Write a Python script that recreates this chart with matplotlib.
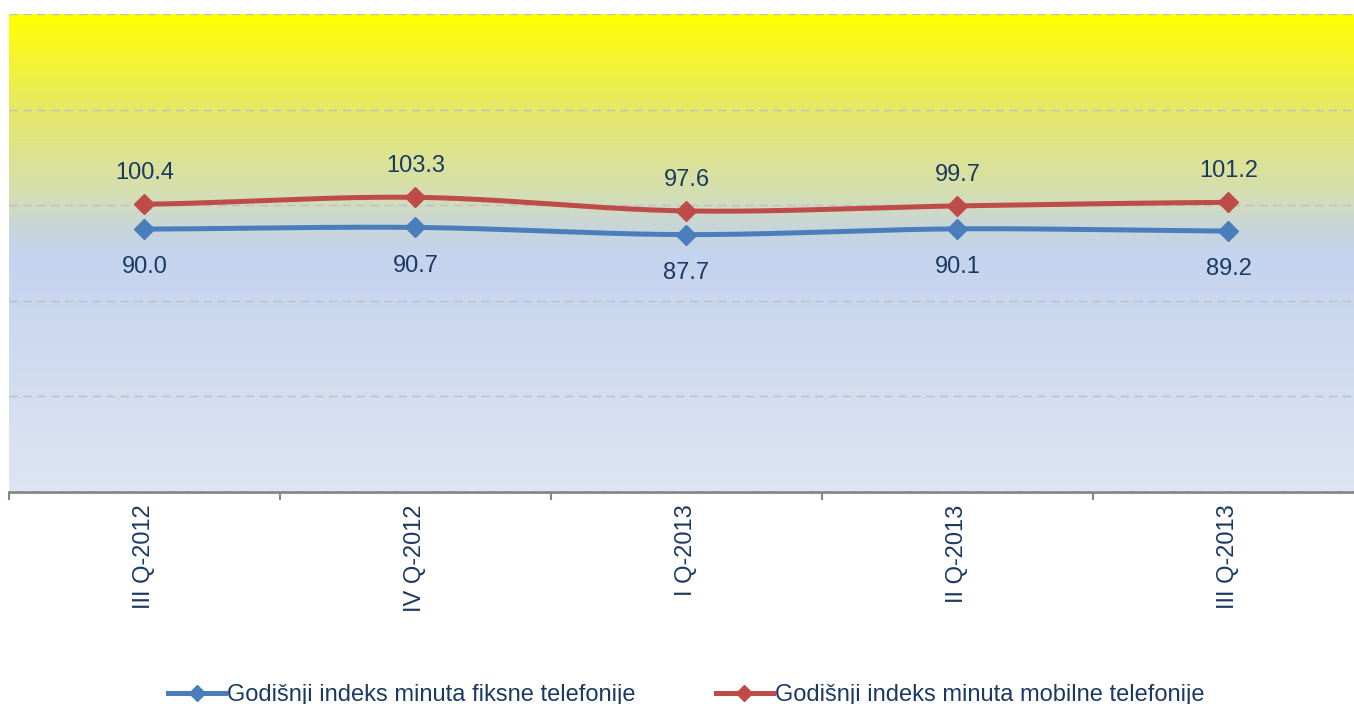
import numpy as np
import matplotlib.pyplot as plt
from matplotlib.colors import LinearSegmentedColormap

plt.rcParams['font.family'] = ['Liberation Sans', 'DejaVu Sans']

quarters = ['III Q-2012', 'IV Q-2012', 'I Q-2013', 'II Q-2013', 'III Q-2013']
fiksna = [90.0, 90.7, 87.7, 90.1, 89.2]
mobilna = [100.4, 103.3, 97.6, 99.7, 101.2]
names = ['Godišnji indeks minuta fiksne telefonije',
         'Godišnji indeks minuta mobilne telefonije']

blue = '#4A7EBB'
red = '#BE4B48'
txt = '#1B3A63'


def smooth(y, n=40):
    # catmull-rom style curve through the points, like excel's smoothed line
    y = np.asarray(y, float)
    x = np.arange(len(y), dtype=float)
    px = np.concatenate([[2 * x[0] - x[1]], x, [2 * x[-1] - x[-2]]])
    py = np.concatenate([[y[0]], y, [y[-1]]])
    xs, ys = [], []
    for i in range(1, len(px) - 2):
        t = np.linspace(0, 1, n)
        p0, p1, p2, p3 = py[i - 1], py[i], py[i + 1], py[i + 2]
        q0, q1, q2, q3 = px[i - 1], px[i], px[i + 1], px[i + 2]
        c = lambda a0, a1, a2, a3: 0.5 * ((2 * a1) + (-a0 + a2) * t +
                                          (2 * a0 - 5 * a1 + 4 * a2 - a3) * t ** 2 +
                                          (-a0 + 3 * a1 - 3 * a2 + a3) * t ** 3)
        xs.append(c(q0, q1, q2, q3))
        ys.append(c(p0, p1, p2, p3))
    return np.concatenate(xs), np.concatenate(ys)


fig = plt.figure(figsize=(13.54, 7.04), dpi=100)
ax = fig.add_axes([9 / 1354, 1 - 492 / 704, 1355 / 1354, 478 / 704])

ymin, ymax = -20, 180
stops = [(0.0, (222/255, 229/255, 243/255)),
         (0.50, (196/255, 211/255, 238/255)),
         (0.56, (200/255, 214/255, 215/255)),
         (0.62, (212/255, 222/255, 180/255)),
         (0.80, (230/255, 232/255, 105/255)),
         (1.0, (255/255, 255/255, 0/255))]
cmap = LinearSegmentedColormap.from_list('bg', stops)
grad = np.linspace(0, 1, 400).reshape(-1, 1)
ax.imshow(grad, cmap=cmap, aspect='auto', origin='lower',
          extent=[-0.5, 4.5, ymin, ymax], zorder=0)

ax.set_xlim(-0.5, 4.5)
ax.set_ylim(ymin, ymax)
ax.set_yticks(np.arange(ymin, ymax + 1, 40))
ax.yaxis.grid(True, color='#BFBFBF', linestyle=(0, (6, 4)), linewidth=1)
ax.set_axisbelow(False)
ax.tick_params(axis='y', left=False, labelleft=False)

x = np.arange(len(quarters))
for vals, col, lab in [(fiksna, blue, names[0]), (mobilna, red, names[1])]:
    sx, sy = smooth(vals)
    ax.plot(sx, sy, color=col, lw=3.6, zorder=3, solid_capstyle='round')
    ax.plot(x, vals, color=col, lw=3.6, marker='D', markersize=10,
            linestyle='none', zorder=4)
    ax.plot([], [], color=col, lw=3.6, marker='D', markersize=8, label=lab)

for i in range(len(quarters)):
    ax.annotate(f'{mobilna[i]:.1f}', (x[i], mobilna[i]), xytext=(0, 22.5),
                textcoords='offset points', ha='center', va='center',
                fontsize=17, color=txt)
    ax.annotate(f'{fiksna[i]:.1f}', (x[i], fiksna[i]), xytext=(0, -27.5),
                textcoords='offset points', ha='center', va='center',
                fontsize=17, color=txt)

ax.set_xticks(x)
ax.set_xticklabels(quarters, rotation=90, fontsize=17, color=txt)
ax.set_xticks(np.arange(-0.5, 5, 1), minor=True)
ax.tick_params(axis='x', which='major', length=0, pad=9)
ax.tick_params(axis='x', which='minor', length=6, color='#868686', width=1.5)

for s in ['top', 'right', 'left']:
    ax.spines[s].set_visible(False)
ax.spines['bottom'].set_color('#868686')
ax.spines['bottom'].set_linewidth(2)

leg = fig.legend(loc='center', bbox_to_anchor=(0.507, 1 - 695 / 704), ncol=2,
                 frameon=False, fontsize=17, handlelength=2.4,
                 handletextpad=0.1, columnspacing=3.4)
for t in leg.get_texts():
    t.set_color(txt)

fig.savefig('out.png', dpi=100)
